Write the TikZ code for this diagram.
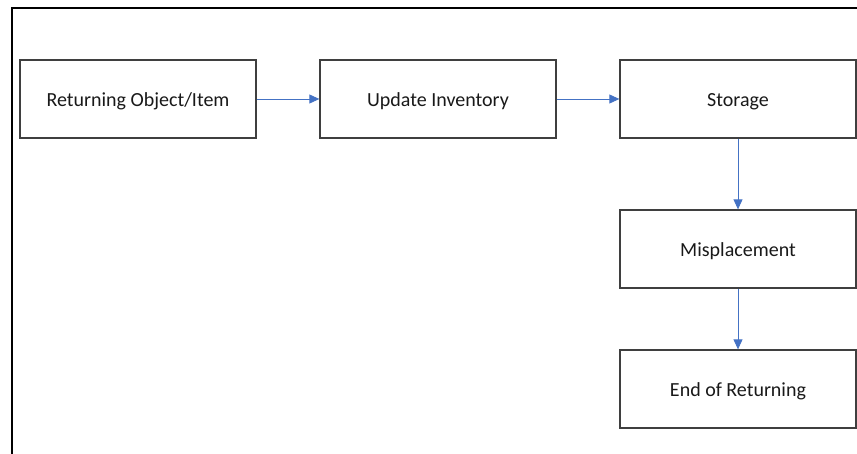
\documentclass[tikz,border=0pt]{standalone}
\usepackage{fontspec}
\setmainfont{Carlito}
\usetikzlibrary{arrows.meta}
\definecolor{boxline}{HTML}{3F3F3F}
\definecolor{flowblue}{HTML}{4472C4}
\tikzset{
  stepbox/.style={draw=boxline, line width=1.3pt, minimum width=236pt, minimum height=78pt,
    inner sep=0pt, text height=18pt, text depth=3pt,
    font=\fontsize{20}{24}\selectfont, text=black!90},
  flow/.style={draw=flowblue, line width=0.9pt, -{Triangle[length=10pt,width=9pt]}}
}
\begin{document}
\begin{tikzpicture}[x=1pt,y=-1pt]
  \useasboundingbox (0,0) rectangle (857,454);
  % outer frame (top and left edges)
  \draw[black, line width=2pt] (12,455) -- (12,8) -- (858,8);
  % process steps
  \node[stepbox] (ret) at (138,99) {Returning Object/Item};
  \node[stepbox] (upd) at (438,99) {Update Inventory};
  \node[stepbox] (sto) at (738,99) {Storage};
  \node[stepbox] (mis) at (738,249) {Misplacement};
  \node[stepbox] (end) at (738,389) {End of Returning};
  % flow between steps
  \draw[flow] (ret) -- (upd);
  \draw[flow] (upd) -- (sto);
  \draw[flow] (sto) -- (mis);
  \draw[flow] (mis) -- (end);
\end{tikzpicture}
\end{document}
